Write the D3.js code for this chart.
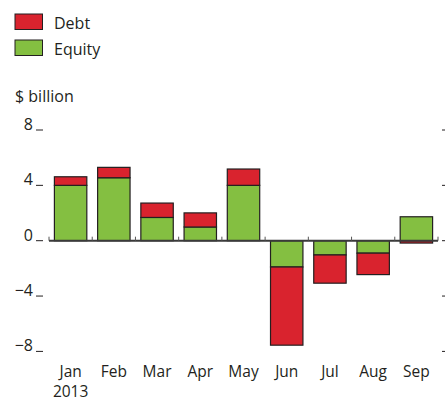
<!DOCTYPE html>
<html><head><meta charset="utf-8">
<script src="https://cdn.jsdelivr.net/npm/d3@7"></script>
<style>body{margin:0;background:#fff}</style>
</head><body>
<script>
const months = ["Jan","Feb","Mar","Apr","May","Jun","Jul","Aug","Sep"];
const equity = [4.0, 4.55, 1.68, 0.99, 4.0, -1.9, -1.03, -0.9, 1.73];
const debt   = [0.62, 0.75, 1.04, 1.02, 1.18, -5.65, -2.04, -1.55, -0.17];
const yTicks = [8, 4, 0, -4, -8];
const seriesNames = ["Equity", "Debt"];
const legendNames = ["Debt", "Equity"];
const colors = {Debt: "#d9232e", Equity: "#84bf41"};

const W = 445, H = 401;
const font = "'Open Sans', sans-serif";
const svg = d3.select("body").append("svg").attr("width", W).attr("height", H)
  .style("font-family", font);

const x = d3.scaleBand().domain(months).range([49, 438]).paddingInner(0.25).paddingOuter(0.125);
const y = d3.scaleLinear().domain([-8, 8]).range([351.4, 130]);

const rows = months.map((m, i) => ({month: m, Equity: equity[i], Debt: debt[i]}));
const stacked = d3.stack().keys(seriesNames).offset(d3.stackOffsetDiverging)(rows);

// bars
svg.append("g").selectAll("g").data(stacked).join("g")
  .attr("fill", d => colors[d.key])
  .selectAll("rect").data(d => d).join("rect")
  .attr("x", d => x(d.data.month))
  .attr("width", x.bandwidth())
  .attr("y", d => y(Math.max(d[0], d[1])))
  .attr("height", d => Math.abs(y(d[0]) - y(d[1])))
  .attr("stroke", "#231f20").attr("stroke-width", 1.2);

// zero axis line
svg.append("line").attr("x1", 49).attr("x2", 438).attr("y1", y(0)).attr("y2", y(0))
  .attr("stroke", "#3a3a3a").attr("stroke-width", 2);
// boundary ticks
const bounds = months.map(m => x(m) - x.step() * x.paddingInner() / 2).concat([438]);
bounds[0] = 49;
svg.append("g").selectAll("line").data(bounds).join("line")
  .attr("x1", d => d).attr("x2", d => d)
  .attr("y1", y(0)).attr("y2", y(0) - 4)
  .attr("stroke", "#555").attr("stroke-width", 1);

// left axis
const ly = svg.append("g");
ly.selectAll("text").data(yTicks).join("text")
  .attr("x", 33).attr("y", d => y(d))
  .attr("text-anchor", "end").attr("font-size", 16).attr("fill", "#231f20")
  .text(d => d < 0 ? "\u2212" + Math.abs(d) : d);
ly.selectAll("line").data(yTicks).join("line")
  .attr("x1", 36).attr("x2", 43).attr("y1", d => y(d)).attr("y2", d => y(d))
  .attr("stroke", "#231f20").attr("stroke-width", 1);
// right ticks
svg.append("g").selectAll("line").data(yTicks).join("line")
  .attr("x1", 442).attr("x2", 445).attr("y1", d => y(d)).attr("y2", d => y(d))
  .attr("stroke", "#231f20").attr("stroke-width", 1);

// x labels
svg.append("g").selectAll("text").data(months).join("text")
  .attr("x", d => x(d) + x.bandwidth() / 2).attr("y", 376.5)
  .attr("text-anchor", "middle").attr("font-size", 15.5).attr("fill", "#231f20")
  .text(d => d);
svg.append("text").attr("x", x("Jan") + x.bandwidth() / 2).attr("y", 396.5)
  .attr("text-anchor", "middle").attr("font-size", 15.5).attr("fill", "#231f20").text("2013");

// unit label
svg.append("text").attr("x", 15).attr("y", 101.5).attr("font-size", 16).attr("fill", "#231f20").text("$ billion");

// legend
const lg = svg.append("g").selectAll("g").data(legendNames).join("g")
  .attr("transform", (d, i) => `translate(15,${14 + i * 26})`);
lg.append("rect").attr("width", 27.5).attr("height", 15.5)
  .attr("fill", d => colors[d]).attr("stroke", "#231f20").attr("stroke-width", 1);
lg.append("text").attr("x", 39).attr("y", 14.5).attr("font-size", 16).attr("fill", "#231f20").text(d => d);
</script>
</body></html>
